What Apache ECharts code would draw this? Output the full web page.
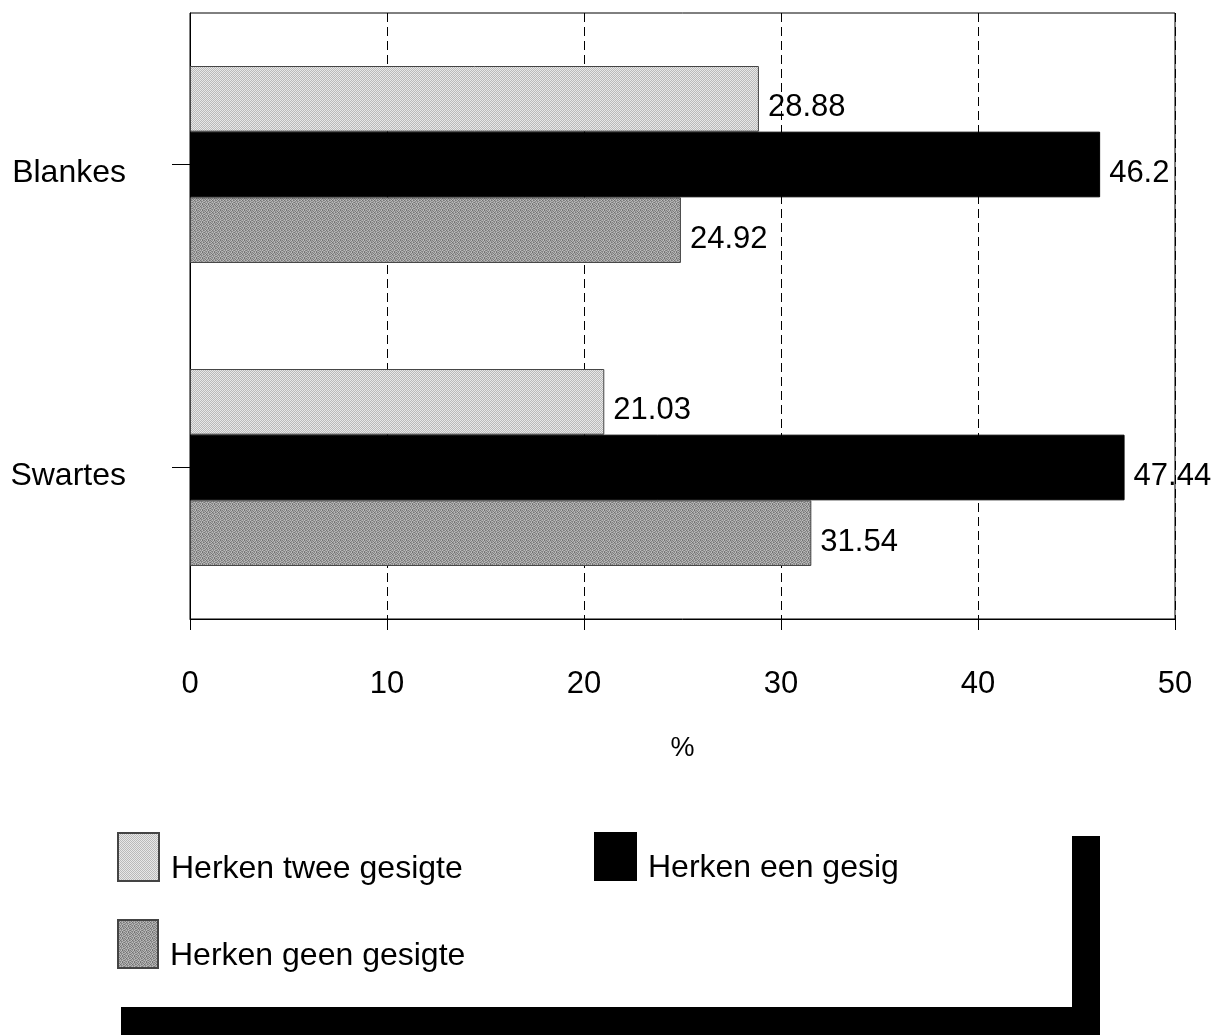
<!DOCTYPE html>
<html>
<head>
<meta charset="utf-8">
<script src="https://cdn.jsdelivr.net/npm/echarts@6/dist/echarts.min.js"></script>
<style>html,body{margin:0;padding:0;background:#fff;}#c{width:1215px;height:1035px;}</style>
</head>
<body>
<div id="c"></div>
<script>
const categories = ['Blankes', 'Swartes'];
const seriesNames = ['Herken twee gesigte', 'Herken een gesig', 'Herken geen gesigte'];
const tweeValues = [28.88, 21.03];
const eenValues = [46.2, 47.44];
const geenValues = [24.92, 31.54];
const xMin = 0, xMax = 50, xStep = 10;

function makePattern(tile) {
  const n = tile.length;
  const cv = document.createElement('canvas');
  cv.width = n; cv.height = n;
  const ctx = cv.getContext('2d');
  for (let y = 0; y < n; y++) for (let x = 0; x < n; x++) {
    const v = tile[y][x];
    ctx.fillStyle = 'rgb(' + v + ',' + v + ',' + v + ')';
    ctx.fillRect(x, y, 1, 1);
  }
  return { image: cv, repeat: 'repeat' };
}
const lightPat = makePattern([[0xe8, 0xba], [0xba, 0xe8]]);
const grayPat = makePattern([
  [0x80, 0xb0, 0x90, 0xc0, 0x70, 0xa0],
  [0xa8, 0x78, 0xb8, 0x88, 0xa8, 0x90],
  [0x90, 0xc0, 0x70, 0xa0, 0xb8, 0x78],
  [0xb0, 0x88, 0xa8, 0x80, 0x98, 0xb0],
  [0x78, 0xa0, 0xb8, 0x90, 0xc0, 0x88],
  [0xb8, 0x90, 0x80, 0xb0, 0x78, 0xa8]
]);

const FONT = '"Liberation Sans", Arial, Helvetica, sans-serif';
const chart = echarts.init(document.getElementById('c'), null, { renderer: 'canvas' });

const labelCfg = {
  show: true, position: 'right', distance: 9, offset: [0, 9],
  color: '#000', fontSize: 31, fontFamily: FONT
};
const legendText = {
  color: '#000', fontSize: 32, fontFamily: FONT,
  rich: { t: { color: '#000', fontSize: 32, fontFamily: FONT, padding: [24, 0, 0, 7] } }
};
const legendFmt = function (name) { return '{t|' + name + '}'; };

chart.setOption({
  animation: false,
  backgroundColor: '#fff',
  grid: { left: 190, right: 40, top: 13, bottom: 416, show: true, borderColor: '#000', borderWidth: 1, containLabel: false },
  xAxis: {
    type: 'value', min: xMin, max: xMax, interval: xStep,
    name: '%', nameLocation: 'middle', nameGap: 116,
    nameTextStyle: { color: '#000', fontSize: 27, fontFamily: FONT },
    axisLine: { show: true, lineStyle: { color: '#000', width: 1 } },
    axisTick: { show: true, length: 11, lineStyle: { color: '#000' } },
    axisLabel: { color: '#000', fontSize: 31, fontFamily: FONT, margin: 50 },
    splitLine: { show: true, lineStyle: { color: '#000', type: [9, 5], width: 1 } }
  },
  yAxis: {
    type: 'category', data: categories, inverse: true,
    axisLine: { show: true, lineStyle: { color: '#000' } },
    axisTick: { show: true, alignWithLabel: true, length: 18, lineStyle: { color: '#000' } },
    axisLabel: {
      color: '#000', fontSize: 32, fontFamily: FONT, margin: 64,
      formatter: function (v) { return '{c|' + v + '}'; },
      rich: { c: { color: '#000', fontSize: 32, fontFamily: FONT, padding: [18, 0, 0, 0] } }
    }
  },
  legend: [
    { left: 117, top: 832, padding: 0, itemWidth: 41, itemHeight: 48, icon: 'rect', data: [seriesNames[0]], textStyle: legendText, formatter: legendFmt, selectedMode: false },
    { left: 594, top: 832, padding: 0, itemWidth: 41, itemHeight: 47, icon: 'rect', data: [seriesNames[1]], textStyle: legendText, formatter: legendFmt, selectedMode: false },
    { left: 117, top: 919, padding: 0, itemWidth: 40, itemHeight: 48, icon: 'rect', data: [seriesNames[2]], textStyle: legendText, formatter: legendFmt, selectedMode: false }
  ],
  series: [
    { name: seriesNames[0], type: 'bar', data: tweeValues, barGap: '0%', barCategoryGap: '35%',
      itemStyle: { color: lightPat, borderColor: '#444', borderWidth: 1 }, label: labelCfg },
    { name: seriesNames[1], type: 'bar', data: eenValues, barGap: '0%', barCategoryGap: '35%',
      itemStyle: { color: '#000', borderColor: '#000', borderWidth: 1 }, label: labelCfg },
    { name: seriesNames[2], type: 'bar', data: geenValues, barGap: '0%', barCategoryGap: '35%',
      itemStyle: { color: grayPat, borderColor: '#444', borderWidth: 1 }, label: labelCfg }
  ],
  graphic: [
    { type: 'rect', left: 1072, top: 836, shape: { width: 28, height: 199 }, style: { fill: '#000' }, silent: true },
    { type: 'rect', left: 121, top: 1007, shape: { width: 979, height: 28 }, style: { fill: '#000' }, silent: true }
  ]
});
</script>
</body>
</html>
